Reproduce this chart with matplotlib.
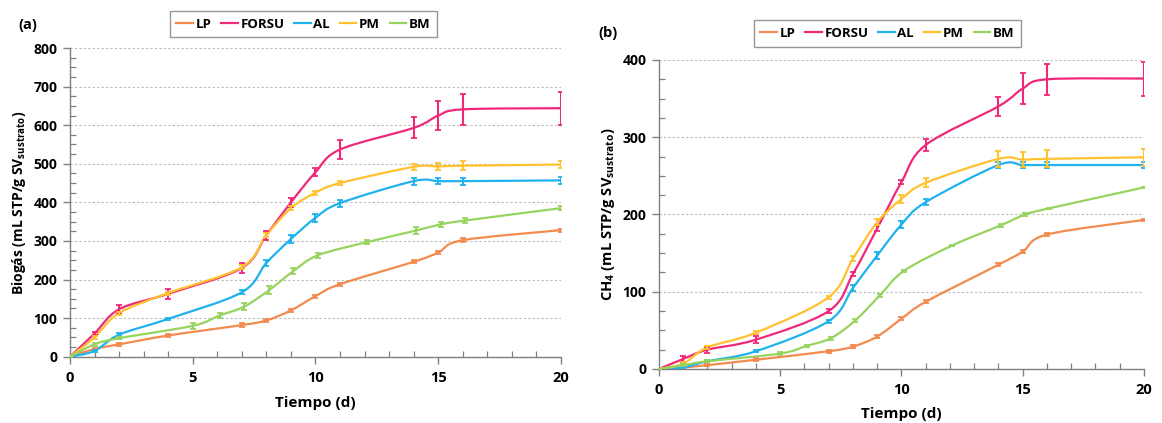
import numpy as np
import matplotlib
matplotlib.use("Agg")
import matplotlib.pyplot as plt
from matplotlib.path import Path
from matplotlib.patches import PathPatch
from matplotlib.lines import Line2D
from matplotlib.ticker import MultipleLocator

plt.rcParams["font.family"] = ["Open Sans", "DejaVu Sans"]
plt.rcParams["font.weight"] = "bold"
plt.rcParams["mathtext.fontset"] = "custom"
plt.rcParams["mathtext.bf"] = "Open Sans:bold"
plt.rcParams["mathtext.rm"] = "Open Sans:bold"

# days of measurement
days = [0, 1, 2, 4, 7, 8, 9, 10, 11, 14, 15, 16, 20]
days_bm = [0, 1, 2, 5, 6.1, 7.1, 8.1, 9.1, 10.1, 12.1, 14.1, 15.1, 16.1, 20]

# (a) biogas
bio_lp = [0, 20, 32, 55, 82, 94, 120, 157, 188, 246, 270, 302, 328]
bio_lp_err = [0, 3, 3, 5, 6, 5, 4, 4, 4, 4, 5, 6, 4]
bio_forsu = [0, 60, 123, 163, 230, 315, 400, 478, 537, 593, 625, 641, 644]
bio_forsu_err = [0, 3, 10, 13, 13, 12, 12, 10, 25, 27, 37, 40, 43]
bio_al = [0, 15, 57, 98, 167, 243, 305, 360, 398, 455, 455, 455, 457]
bio_al_err = [0, 3, 4, 3, 5, 8, 11, 11, 9, 9, 8, 9, 9]
bio_pm = [0, 50, 113, 165, 232, 315, 385, 425, 450, 492, 493, 495, 498]
bio_pm_err = [0, 3, 4, 4, 5, 5, 5, 5, 5, 8, 10, 12, 10]
bio_bm = [0, 32, 48, 80, 107, 130, 172, 222, 263, 297, 327, 343, 353, 385]
bio_bm_err = [0, 3, 3, 8, 7, 9, 10, 8, 7, 6, 8, 7, 6, 5]

# (b) methane
ch4_lp = [0, 2, 5, 12, 23, 29, 42, 65, 87, 135, 152, 174, 193]
ch4_lp_err = [0, 1, 1, 2, 2, 2, 2, 2, 2, 2, 2, 2, 1]
ch4_forsu = [0, 13, 25, 38, 75, 123, 182, 242, 290, 340, 363, 375, 376]
ch4_forsu_err = [0, 4, 4, 5, 3, 3, 4, 3, 8, 12, 20, 20, 22]
ch4_al = [0, 2, 10, 23, 62, 105, 147, 187, 216, 264, 264, 264, 264]
ch4_al_err = [0, 1, 1, 1, 2, 4, 5, 5, 4, 4, 4, 4, 4]
ch4_pm = [0, 7, 28, 47, 93, 143, 190, 220, 241, 272, 271, 272, 274]
ch4_pm_err = [0, 2, 2, 2, 2, 3, 4, 5, 6, 10, 10, 11, 11]
ch4_bm = [0, 5, 10, 20, 30, 40, 63, 95, 127, 160, 186, 200, 208, 235]
ch4_bm_err = [0, 1, 1, 2, 1, 2, 2, 2, 1, 1, 2, 2, 1, 1]

names = ["LP", "FORSU", "AL", "PM", "BM"]
colors = ["#F38B4E", "#F0287A", "#1FB2EC", "#FFC12E", "#97D35F"]


def smooth_path(x, y):
    # cubic Bezier through the measured points (Excel-style smoothed line)
    pts = np.column_stack([x, y]).astype(float)
    n = len(pts)
    verts = [pts[0]]
    codes = [Path.MOVETO]
    for i in range(n - 1):
        p0 = pts[max(i - 1, 0)]
        p1 = pts[i]
        p2 = pts[i + 1]
        p3 = pts[min(i + 2, n - 1)]
        verts += [p1 + (p2 - p0) / 6, p2 - (p3 - p1) / 6, p2]
        codes += [Path.CURVE4] * 3
    return Path(verts, codes)


def draw(ax, series, ymax, ylabel, ylabsize, xlabpad):
    for (x, y, e), c in zip(series, colors):
        ax.add_patch(PathPatch(smooth_path(x, y), fill=False, edgecolor=c, lw=1.6, zorder=3))
        ax.errorbar(x, y, yerr=e, fmt="none", ecolor=c, elinewidth=1.5,
                    capsize=2.2, capthick=1.3, zorder=4)
    ax.set_xlim(0, 20)
    ax.set_ylim(0, ymax)
    ax.xaxis.set_major_locator(MultipleLocator(5))
    ax.xaxis.set_minor_locator(MultipleLocator(1))
    ax.yaxis.set_major_locator(MultipleLocator(100))
    ax.yaxis.set_minor_locator(MultipleLocator(25))
    ax.grid(axis="y", which="major", color="#BBBBBB", ls=(0, (2, 2)), lw=0.8)
    ax.set_axisbelow(True)
    for s in ("top", "right"):
        ax.spines[s].set_visible(False)
    for s in ("left", "bottom"):
        ax.spines[s].set_color("#808080")
        ax.spines[s].set_linewidth(1.0)
    ax.tick_params(which="major", direction="out", length=5, color="#808080", width=1.0,
                   labelsize=10.5)
    ax.tick_params(which="minor", direction="in", length=4, color="#808080", width=0.9)
    ax.tick_params(axis="x", which="major", pad=5)
    ax.tick_params(axis="y", which="major", pad=4, labelsize=10)
    for lab in ax.get_xticklabels() + ax.get_yticklabels():
        lab.set_fontweight("bold")
    ax.set_xlabel("Tiempo (d)", fontsize=11, fontweight="bold", labelpad=xlabpad)
    ax.set_ylabel(ylabel, fontsize=ylabsize, fontweight="bold", labelpad=4)


fig = plt.figure(figsize=(11.62, 4.23), dpi=100)
ax1 = fig.add_axes([0.0602, 0.1567, 0.4226, 0.7298])
ax2 = fig.add_axes([0.5671, 0.1277, 0.4174, 0.7305])

series_a = [(days, bio_lp, bio_lp_err), (days, bio_forsu, bio_forsu_err),
            (days, bio_al, bio_al_err), (days, bio_pm, bio_pm_err),
            (days_bm, bio_bm, bio_bm_err)]
series_b = [(days, ch4_lp, ch4_lp_err), (days, ch4_forsu, ch4_forsu_err),
            (days, ch4_al, ch4_al_err), (days, ch4_pm, ch4_pm_err),
            (days_bm, ch4_bm, ch4_bm_err)]

draw(ax1, series_a, 800, r"Biogás (mL STP/g SV$_{\mathbf{sustrato}}$)", 10, 8)
draw(ax2, series_b, 400, r"CH$_{\mathbf{4}}$ (mL STP/g SV$_{\mathbf{sustrato}}$)", 10.5, 7)

handles = [Line2D([], [], color=c, lw=1.6) for c in colors]
for cx, cy in ((303.5 / 1162, 1 - 24 / 423), (887.5 / 1162, 1 - 33.5 / 423)):
    leg = fig.legend(handles, names, loc="center", bbox_to_anchor=(cx, cy), ncol=5,
                     frameon=True, fancybox=False, edgecolor="#7F7F7F",
                     prop={"weight": "bold", "size": 9.5}, handlelength=1.25,
                     handletextpad=0.2, columnspacing=0.75, borderpad=0.5)
    leg.get_frame().set_linewidth(1.0)

fig.text(18 / 1162, 1 - 25 / 423, "(a)", fontsize=10.5, fontweight="bold", va="center")
fig.text(598 / 1162, 1 - 33 / 423, "(b)", fontsize=10.5, fontweight="bold", va="center")

fig.savefig("out.png", dpi=100)
